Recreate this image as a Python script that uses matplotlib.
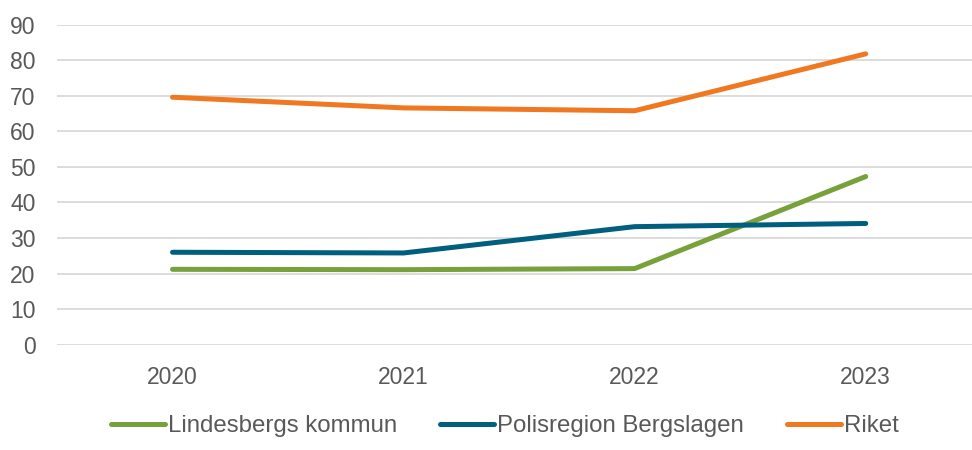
import matplotlib.pyplot as plt

plt.rcParams['font.family'] = ['Liberation Sans', 'DejaVu Sans']

# Data
years = ["2020", "2021", "2022", "2023"]
lindesberg = [21.2, 21.1, 21.4, 47.3]
bergslagen = [26.0, 25.8, 33.2, 34.1]
riket = [69.6, 66.6, 65.8, 81.8]

series = [
    ("Lindesbergs kommun", lindesberg, "#77A13A"),
    ("Polisregion Bergslagen", bergslagen, "#005F7F"),
    ("Riket", riket, "#F07820"),
]

text_color = "#595959"

fig = plt.figure(figsize=(9.72, 4.5), dpi=100)
ax = fig.add_axes([57 / 972, 1 - 344.7 / 450, (972 - 57) / 972, 320 / 450])

x = range(len(years))
for name, vals, color in series:
    ax.plot(x, vals, color=color, linewidth=3.6, solid_capstyle="round",
            solid_joinstyle="round", label=name, zorder=3)

ax.set_ylim(0, 90)
ax.set_xlim(-0.5, 3.46)
ax.set_yticks(range(0, 91, 10))
ax.set_xticks(list(x))
ax.set_xticklabels(years)
ax.grid(axis="y", color="#D9D9D9", linewidth=1.3, zorder=0)
ax.set_axisbelow(True)
for s in ax.spines.values():
    s.set_visible(False)
ax.tick_params(axis="both", length=0, labelsize=16.5, colors=text_color)
ax.tick_params(axis="y", pad=15.5)
ax.tick_params(axis="x", pad=15)

leg = fig.legend(loc="center", bbox_to_anchor=(0.5195, 1 - 426 / 450), ncol=3,
                 frameon=False, fontsize=17.3, handlelength=2.25, handletextpad=0.12,
                 columnspacing=1.8)
for t in leg.get_texts():
    t.set_color(text_color)

fig.savefig("out.png", dpi=100)
